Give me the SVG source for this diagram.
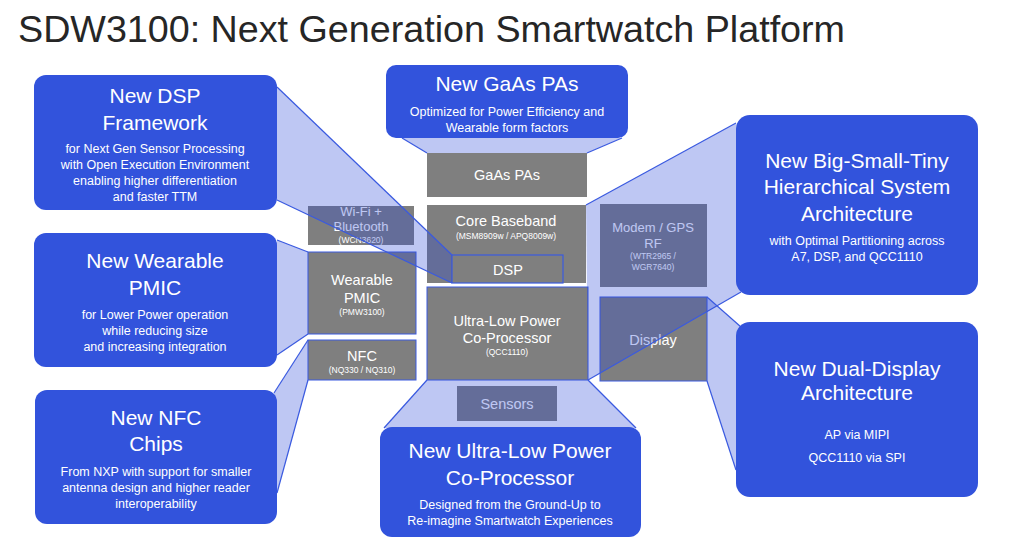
<svg xmlns="http://www.w3.org/2000/svg" width="1024" height="543" viewBox="0 0 1024 543">
<style>
text{font-family:"Liberation Sans",Arial,sans-serif;fill:#fff;text-anchor:middle}
.box{fill:#3253dc}
.blk{fill:#7f7f7f}
.ov{fill:rgb(40,70,215);fill-opacity:0.3;stroke:none}
.ln{stroke:#3a5ae0;stroke-width:1.2;fill:none}
.t{font-size:21px}
.b{font-size:12.5px}
.bt{font-size:14.5px}
.s{font-size:8.5px}
</style>
<rect width="1024" height="543" fill="#fff"/>
<text x="18" y="42" style="font-size:36px;fill:#262626;text-anchor:start" textLength="827" lengthAdjust="spacingAndGlyphs">SDW3100: Next Generation Smartwatch Platform</text>

<g id="blocks">
<g id="gaas-blk"><rect class="blk" x="427" y="153" width="160" height="44"/><text class="bt" x="507" y="180">GaAs PAs</text></g>
<g id="core-blk"><rect class="blk" x="427" y="205" width="159" height="78"/><text class="bt" x="506" y="226">Core Baseband</text><text class="s" x="506" y="239">(MSM8909w / APQ8009w)</text></g>
<g id="dsp-blk"><rect class="blk" x="452" y="255" width="111" height="28" stroke="#3a5ae0" stroke-width="1.2"/><text class="bt" x="508" y="275">DSP</text></g>
<g id="ulp-blk"><rect class="blk" x="427" y="287" width="161" height="93" stroke="#3a5ae0" stroke-width="1"/><text class="bt" x="507" y="326">Ultra-Low Power</text><text class="bt" x="507" y="343">Co-Processor</text><text class="s" x="507" y="355">(QCC1110)</text></g>
<g id="wifi-blk"><rect class="blk" x="308" y="206" width="106" height="39"/><text x="361" y="216" style="font-size:13px">Wi-Fi +</text><text x="361" y="231" style="font-size:13px">Bluetooth</text><text class="s" x="361" y="243">(WCN3620)</text></g>
<g id="pmic-blk"><rect class="blk" x="308" y="252" width="108" height="82" stroke="#3a5ae0" stroke-width="1"/><text class="bt" x="362" y="285">Wearable</text><text class="bt" x="362" y="303">PMIC</text><text class="s" x="362" y="315">(PMW3100)</text></g>
<g id="nfc-blk"><rect class="blk" x="308" y="340" width="108" height="40" stroke="#3a5ae0" stroke-width="1"/><text class="bt" x="362" y="361">NFC</text><text class="s" x="362" y="373">(NQ330 / NQ310)</text></g>
<g id="modem-blk"><rect class="blk" x="600" y="204" width="107" height="83"/><text x="653" y="232" style="font-size:13px">Modem / GPS</text><text x="653" y="248" style="font-size:13px">RF</text><text class="s" x="653" y="259">(WTR2965 /</text><text class="s" x="653" y="270">WGR7640)</text></g>
<g id="display-blk"><rect class="blk" x="600" y="297" width="107" height="84" stroke="#3a5ae0" stroke-width="1"/><text class="bt" x="653" y="345">Display</text></g>
<g id="sensors-blk"><rect class="blk" x="457" y="386" width="100" height="35"/><text class="bt" x="507" y="409">Sensors</text></g>
</g>

<g id="connectors">
<polygon class="ov" points="277,87 452,255 452,283 277,200"/>
<polyline class="ln" points="277,87 452,255"/><polyline class="ln" points="277,200 452,283"/>
<polygon class="ov" points="277,240 308,252 308,334 277,355"/>
<polyline class="ln" points="277,240 308,252"/><polyline class="ln" points="277,355 308,334"/>
<polygon class="ov" points="274,393 308,340 308,380 277,493"/>
<polyline class="ln" points="274,393 308,340"/><polyline class="ln" points="277,493 308,380"/>
<polygon class="ov" points="402,138 622,138 587,153 427,153"/>
<polyline class="ln" points="402,138 427,153"/><polyline class="ln" points="622,138 587,153"/>
<polygon class="ov" points="736,123 586,205 588,380 741,292"/>
<polyline class="ln" points="736,123 586,205"/><polyline class="ln" points="741,292 588,380"/>
<polygon class="ov" points="707,297 741,327 736,470 707,381"/>
<polyline class="ln" points="707,297 741,327"/><polyline class="ln" points="707,381 736,470"/>
<polygon class="ov" points="427,380 588,380 636,428 384,428"/>
<polyline class="ln" points="427,380 384,428"/><polyline class="ln" points="588,380 636,428"/>
</g>

<g id="dsp-callout"><rect class="box" x="34" y="75" width="243" height="135" rx="12"/>
<text class="t" x="155" y="103">New DSP</text><text class="t" x="155" y="130">Framework</text>
<text class="b" x="155" y="153">for Next Gen Sensor Processing</text><text class="b" x="155" y="169">with Open Execution Environment</text><text class="b" x="155" y="185">enabling higher differentiation</text><text class="b" x="155" y="201">and faster TTM</text></g>
<g id="pmic-callout"><rect class="box" x="34" y="233" width="243" height="134" rx="12"/>
<text class="t" x="155" y="268">New Wearable</text><text class="t" x="155" y="295">PMIC</text>
<text class="b" x="155" y="319">for Lower Power operation</text><text class="b" x="155" y="335">while reducing size</text><text class="b" x="155" y="351">and increasing integration</text></g>
<g id="nfc-callout"><rect class="box" x="35" y="390" width="242" height="134" rx="12"/>
<text class="t" x="156" y="425">New NFC</text><text class="t" x="156" y="451">Chips</text>
<text class="b" x="156" y="476">From NXP with support for smaller</text><text class="b" x="156" y="492">antenna design and higher reader</text><text class="b" x="156" y="508">interoperability</text></g>
<g id="gaas-callout"><rect class="box" x="386" y="65" width="242" height="73" rx="10"/>
<text class="t" x="507" y="91">New GaAs PAs</text>
<text class="b" x="507" y="116">Optimized for Power Efficiency and</text><text class="b" x="507" y="132">Wearable form factors</text></g>
<g id="bst-callout"><rect class="box" x="736" y="115" width="242" height="180" rx="14"/>
<text class="t" x="857" y="168">New Big-Small-Tiny</text><text class="t" x="857" y="194">Hierarchical System</text><text class="t" x="857" y="221">Architecture</text>
<text class="b" x="857" y="245">with Optimal Partitioning across</text><text class="b" x="857" y="261">A7, DSP, and QCC1110</text></g>
<g id="dual-callout"><rect class="box" x="736" y="322" width="242" height="175" rx="14"/>
<text class="t" x="857" y="376">New Dual-Display</text><text class="t" x="857" y="400">Architecture</text>
<text class="b" x="857" y="439">AP via MIPI</text><text class="b" x="857" y="462">QCC1110 via SPI</text></g>
<g id="ulp-callout"><rect class="box" x="380" y="427" width="261" height="110" rx="12"/>
<text class="t" x="510" y="458">New Ultra-Low Power</text><text class="t" x="510" y="485">Co-Processor</text>
<text class="b" x="510" y="509">Designed from the Ground-Up to</text><text class="b" x="510" y="525">Re-imagine Smartwatch Experiences</text></g>
</svg>
